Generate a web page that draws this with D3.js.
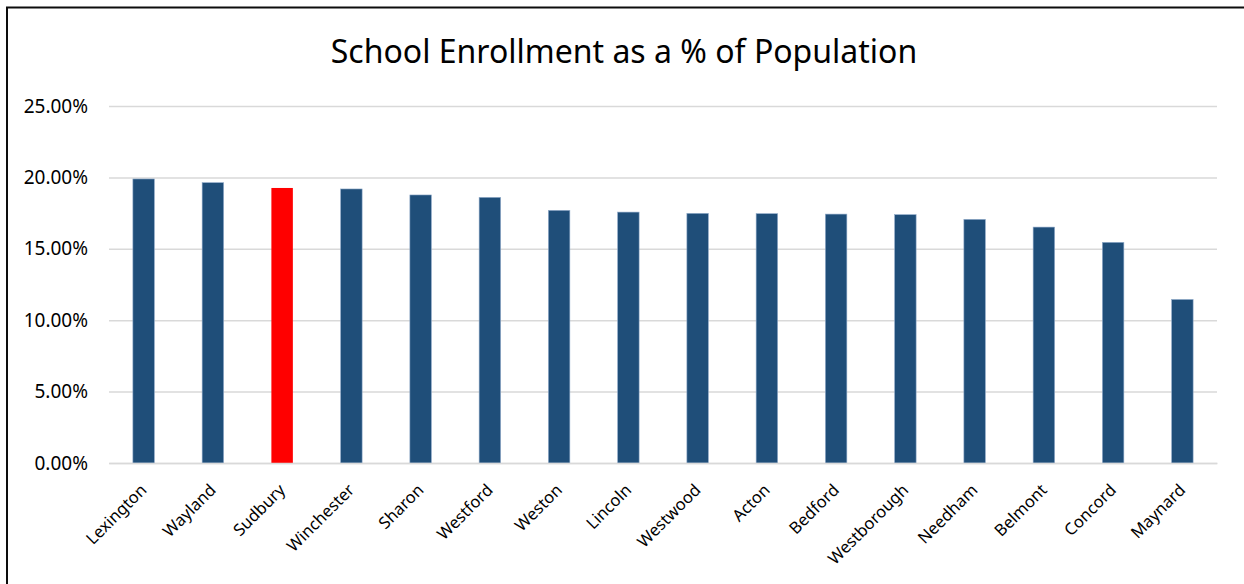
<!DOCTYPE html>
<html>
<head>
<meta charset="utf-8">
<script src="https://cdn.jsdelivr.net/npm/d3@7"></script>
<style>
  body { margin: 0; background: #fff; }
  text { font-family: "Noto Sans", "Open Sans", sans-serif; fill: #000; }
</style>
</head>
<body>
<div id="chart-area"></div>
<script>
var towns = ["Lexington", "Wayland", "Sudbury", "Winchester", "Sharon", "Westford", "Weston", "Lincoln",
  "Westwood", "Acton", "Bedford", "Westborough", "Needham", "Belmont", "Concord", "Maynard"]
var enrollment = [0.1989, 0.1963, 0.1926, 0.1919, 0.1877, 0.1860, 0.1769, 0.1757,
  0.1748, 0.1746, 0.1743, 0.1739, 0.1706, 0.1652, 0.1545, 0.1145]
var yTicks = [0, 0.05, 0.10, 0.15, 0.20, 0.25]
var highlight = "Sudbury"

var width = 1244
var height = 584
var margin = {top: 106, right: 27, bottom: 121, left: 109}
var plotW = width - margin.left - margin.right
var plotH = height - margin.top - margin.bottom

var data = towns.map(function(name, i){
    return {name: name, value: enrollment[i]}
})

var svg = d3.select("#chart-area")
    .append("svg")
    .attr("width", width)
    .attr("height", height)

// chart frame (only top and left edges are visible in the crop)
svg.append("rect")
    .attr("x", 7)
    .attr("y", 7.5)
    .attr("width", width + 10)
    .attr("height", height + 10)
    .attr("fill", "none")
    .attr("stroke", "#0d0d0d")
    .attr("stroke-width", 2)

svg.append("text")
    .attr("x", 624)
    .attr("y", 63)
    .attr("text-anchor", "middle")
    .style("font-size", "32px")
    .text("School Enrollment as a % of Population")

var y = d3.scaleLinear()
    .domain([0, 0.25])
    .range([plotH, 0])

var x = d3.scaleBand()
    .domain(towns)
    .range([0, plotW])
    .paddingInner(0.69)
    .paddingOuter(0.345)

var group = svg.append("g")
    .attr("transform", "translate(" + margin.left + "," + margin.top + ")")

var yAxisCall = d3.axisLeft(y)
    .tickValues(yTicks)
    .tickSize(-plotW)
    .tickPadding(21)
    .tickFormat(d3.format(".2%"))

var yAxis = group.append("g")
    .attr("class", "y-axis")
    .call(yAxisCall)
yAxis.select(".domain").remove()
yAxis.selectAll("line")
    .attr("stroke", "#d9d9d9")
    .attr("stroke-width", 1.5)
yAxis.selectAll("text")
    .style("font-size", "19px")
    .attr("fill", "#000")

group.selectAll("rect.bar")
    .data(data)
    .enter().append("rect")
    .attr("class", "bar")
    .attr("x", function(d){ return x(d.name) })
    .attr("y", function(d){ return y(d.value) })
    .attr("width", x.bandwidth())
    .attr("height", function(d){ return plotH - y(d.value) })
    .attr("fill", function(d){ return d.name === highlight ? "#ff0000" : "#1f4e79" })
    .attr("stroke", function(d){ return d.name === highlight ? "none" : "#8ea9c8" })
    .attr("stroke-width", 0.6)

var xAxisCall = d3.axisBottom(x).tickSize(0).tickPadding(0)

var xAxis = group.append("g")
    .attr("class", "x-axis")
    .attr("transform", "translate(0," + plotH + ")")
    .call(xAxisCall)
xAxis.select(".domain")
    .attr("stroke", "#d9d9d9")
    .attr("stroke-width", 1.5)
xAxis.selectAll("text")
    .style("font-size", "16.5px")
    .attr("fill", "#000")
    .attr("text-anchor", "end")
    .attr("dy", "0")
    .attr("y", 0)
    .attr("transform", "translate(4,28) rotate(-45)")
</script>
</body>
</html>
